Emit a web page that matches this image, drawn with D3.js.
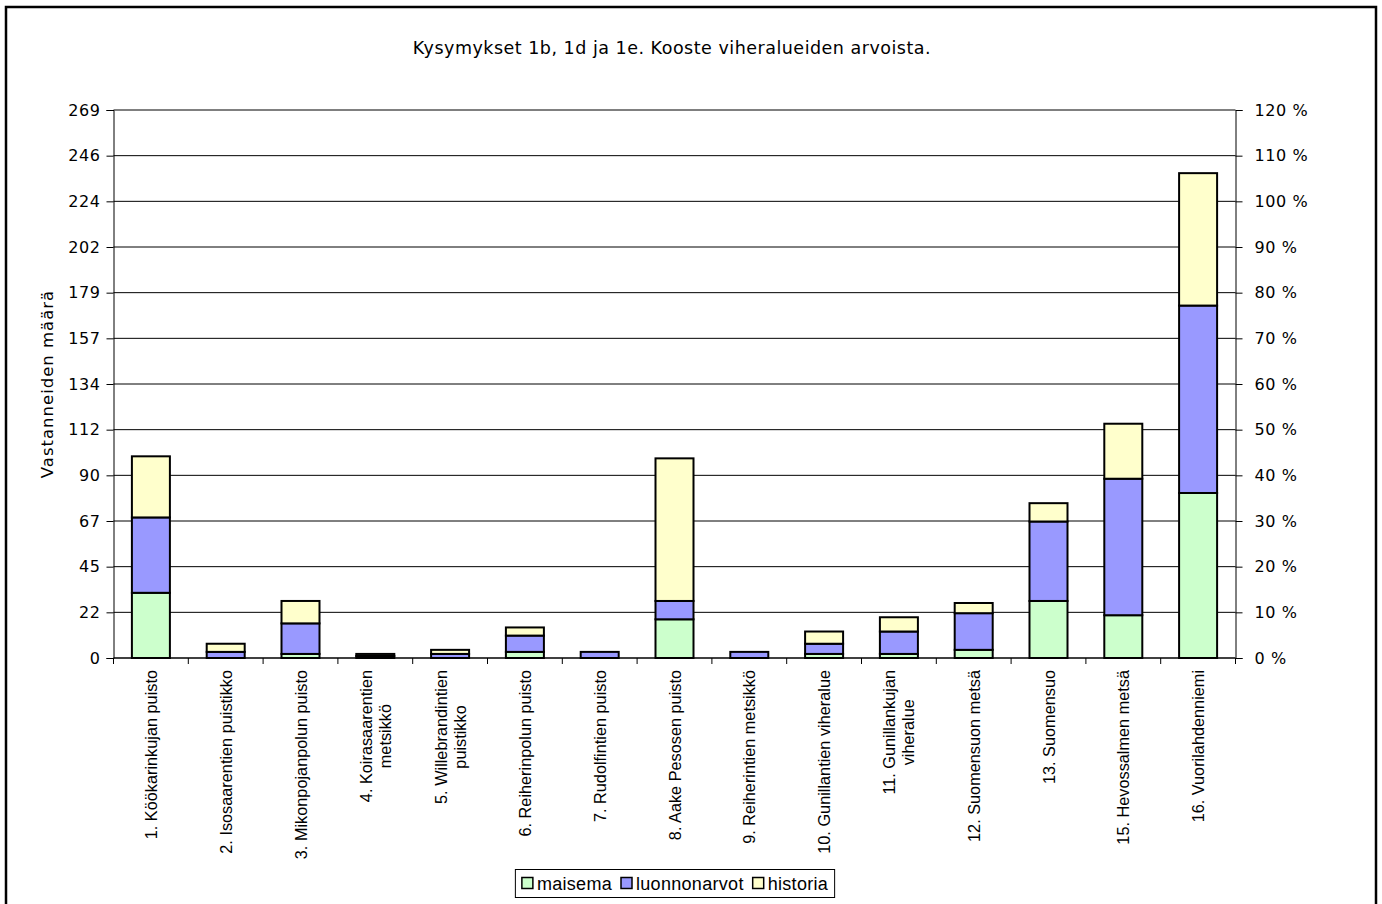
<!DOCTYPE html>
<html>
<head>
<meta charset="utf-8">
<script src="https://cdn.jsdelivr.net/npm/d3@7"></script>
<style>
  html, body { margin: 0; padding: 0; background: #fff; }
  svg { display: block; }
</style>
</head>
<body>
<svg id="chart" width="1382" height="904"></svg>
<script>
const title = "Kysymykset 1b, 1d ja 1e. Kooste viheralueiden arvoista.";
const yAxisTitle = "Vastanneiden määrä";
const categories = [
  "1. Köökarinkujan puisto",
  "2. Isosaarentien puistikko",
  "3. Mikonpojanpolun puisto",
  "4. Koirasaarentien\nmetsikkö",
  "5. Willebrandintien\npuistikko",
  "6. Reiherinpolun puisto",
  "7. Rudolfintien puisto",
  "8. Aake Pesosen puisto",
  "9. Reiherintien metsikkö",
  "10. Gunillantien viheralue",
  "11. Gunillankujan\nviheralue",
  "12. Suomensuon metsä",
  "13. Suomensuo",
  "15. Hevossalmen metsä",
  "16. Vuorilahdenniemi"
];
const seriesNames = ["maisema", "luonnonarvot", "historia"];
const maisema      = [32, 0, 2, 0, 0, 3, 0, 19, 0, 2, 2, 4, 28, 21, 81];
const luonnonarvot = [37, 3, 15, 1, 2, 8, 3, 9, 3, 5, 11, 18, 39, 67, 92];
const historia     = [30, 4, 11, 1, 2, 4, 0, 70, 0, 6, 7, 5, 9, 27, 65];
const leftTickLabels = [0, 22, 45, 67, 90, 112, 134, 157, 179, 202, 224, 246, 269];
const rightTickLabels = [0, 10, 20, 30, 40, 50, 60, 70, 80, 90, 100, 110, 120];
const seriesColors = ["#CCFFCC", "#9999FF", "#FFFFCC"];

const svg = d3.select("#chart");
const plot = { left: 113.5, right: 1235.5, top: 110, bottom: 658 };

// outer frame
svg.append("rect").attr("x", 6).attr("y", 7).attr("width", 1370).attr("height", 920)
  .attr("fill", "none").attr("stroke", "#000").attr("stroke-width", 2.5);

// title
svg.append("text").attr("x", 672).attr("y", 54).attr("text-anchor", "middle")
  .attr("font-family", "DejaVu Sans, Verdana, sans-serif").attr("font-size", 17.5)
  .attr("letter-spacing", 0.5).attr("fill", "#000").text(title);

const yMax = leftTickLabels[leftTickLabels.length - 1];
const y = d3.scaleLinear().domain([0, yMax]).range([plot.bottom, plot.top]);
const yR = d3.scaleLinear().domain([0, rightTickLabels[rightTickLabels.length - 1]]).range([plot.bottom, plot.top]);
const x = d3.scaleBand().domain(d3.range(categories.length)).range([plot.left, plot.right]).paddingInner(0).paddingOuter(0);
const barW = 38;

// gridlines at left tick positions
const nT = leftTickLabels.length - 1;
const tickVals = leftTickLabels.map((d, i) => i * yMax / nT);
svg.append("g").selectAll("line").data(tickVals.slice(1)).join("line")
  .attr("x1", plot.left).attr("x2", plot.right)
  .attr("y1", d => y(d)).attr("y2", d => y(d))
  .attr("stroke", "#000").attr("stroke-width", 1);

// left axis
const leftAxis = d3.axisLeft(y).tickValues(tickVals).tickSize(7).tickPadding(6)
  .tickFormat((d, i) => leftTickLabels[i]);
const gl = svg.append("g").attr("transform", `translate(${plot.left},0)`).call(leftAxis);
gl.select(".domain").attr("stroke", "#000").attr("stroke-width", 1);
gl.selectAll(".tick line").attr("stroke", "#000");
gl.selectAll("text").attr("font-family", "DejaVu Sans, Verdana, sans-serif").attr("font-size", 16)
  .attr("letter-spacing", 0.6).attr("fill", "#000");

// right axis
const rightAxis = d3.axisRight(yR).tickValues(rightTickLabels).tickSize(7).tickPadding(12)
  .tickFormat(d => d + " %");
const gr = svg.append("g").attr("transform", `translate(${plot.right},0)`).call(rightAxis);
gr.select(".domain").attr("stroke", "#000").attr("stroke-width", 1);
gr.selectAll(".tick line").attr("stroke", "#000");
gr.selectAll("text").attr("font-family", "DejaVu Sans, Verdana, sans-serif").attr("font-size", 16)
  .attr("letter-spacing", 0.6).attr("fill", "#000");

// y axis title
svg.append("text").attr("transform", `translate(53,${(plot.top + plot.bottom) / 2}) rotate(-90)`)
  .attr("text-anchor", "middle").attr("font-family", "DejaVu Sans, Verdana, sans-serif")
  .attr("font-size", 16.5).attr("letter-spacing", 1.0).attr("fill", "#000").text(yAxisTitle);

// stacked bars
const rows = categories.map((c, i) => ({ i, maisema: maisema[i], luonnonarvot: luonnonarvot[i], historia: historia[i] }));
const stack = d3.stack().keys(seriesNames)(rows);
stack.forEach((layer, k) => {
  svg.append("g").selectAll("rect").data(layer).join("rect")
    .attr("x", d => x(d.data.i) + x.bandwidth() / 2 - barW / 2)
    .attr("width", barW)
    .attr("y", d => y(d[1]))
    .attr("height", d => Math.max(0, y(d[0]) - y(d[1])))
    .attr("fill", seriesColors[k])
    .attr("stroke", "#000").attr("stroke-width", 2)
    .style("display", d => (d[1] - d[0]) > 0 ? null : "none");
});

// x axis line & ticks at category boundaries
svg.append("line").attr("x1", plot.left).attr("x2", plot.right).attr("y1", plot.bottom).attr("y2", plot.bottom)
  .attr("stroke", "#000").attr("stroke-width", 1.5);
svg.append("g").selectAll("line").data(d3.range(categories.length + 1)).join("line")
  .attr("x1", i => plot.left + i * x.bandwidth()).attr("x2", i => plot.left + i * x.bandwidth())
  .attr("y1", plot.bottom).attr("y2", plot.bottom + 6)
  .attr("stroke", "#000").attr("stroke-width", 1);

// category labels (rotated, centered multi-line blocks)
const labelTop = 670;
const lineH = 19;
categories.forEach((c, i) => {
  const lines = c.split("\n");
  const cx = x(i) + x.bandwidth() / 2;
  const g = svg.append("g");
  const texts = lines.map((ln, j) => g.append("text")
    .attr("font-family", "Liberation Sans, Arial, sans-serif").attr("font-size", 16.3)
    .attr("fill", "#000").attr("text-anchor", "middle").text(ln));
  const maxLen = d3.max(texts, t => t.node().getComputedTextLength());
  const cy = labelTop + maxLen / 2;
  texts.forEach((t, j) => {
    const off = (j - (lines.length - 1) / 2) * lineH;
    t.attr("transform", `translate(${cx + off + 6},${cy}) rotate(-90)`);
  });
});

// legend
const legend = svg.append("g");
const lgY = 883;
let lx = 0;
seriesNames.forEach((n, k) => {
  const g = legend.append("g");
  g.append("rect").attr("x", 0).attr("y", -5.5).attr("width", 11).attr("height", 11)
    .attr("fill", seriesColors[k]).attr("stroke", "#000").attr("stroke-width", 1.5);
  const t = g.append("text").attr("x", 15).attr("y", 6.5).attr("font-family", "Liberation Sans, Arial, sans-serif")
    .attr("font-size", 18).attr("letter-spacing", 0.3).attr("fill", "#000").text(n);
  const w = 15 + t.node().getComputedTextLength();
  g.attr("transform", `translate(${lx},${lgY})`);
  lx += w + 9;
});
const totalW = lx - 9;
const lgLeft = 675 - totalW / 2;
legend.attr("transform", `translate(${lgLeft},0)`);
svg.insert("rect", () => legend.node()).attr("x", lgLeft - 6.5).attr("y", 869.5).attr("width", totalW + 13).attr("height", 28)
  .attr("fill", "#fff").attr("stroke", "#000").attr("stroke-width", 1);
</script>
</body>
</html>
